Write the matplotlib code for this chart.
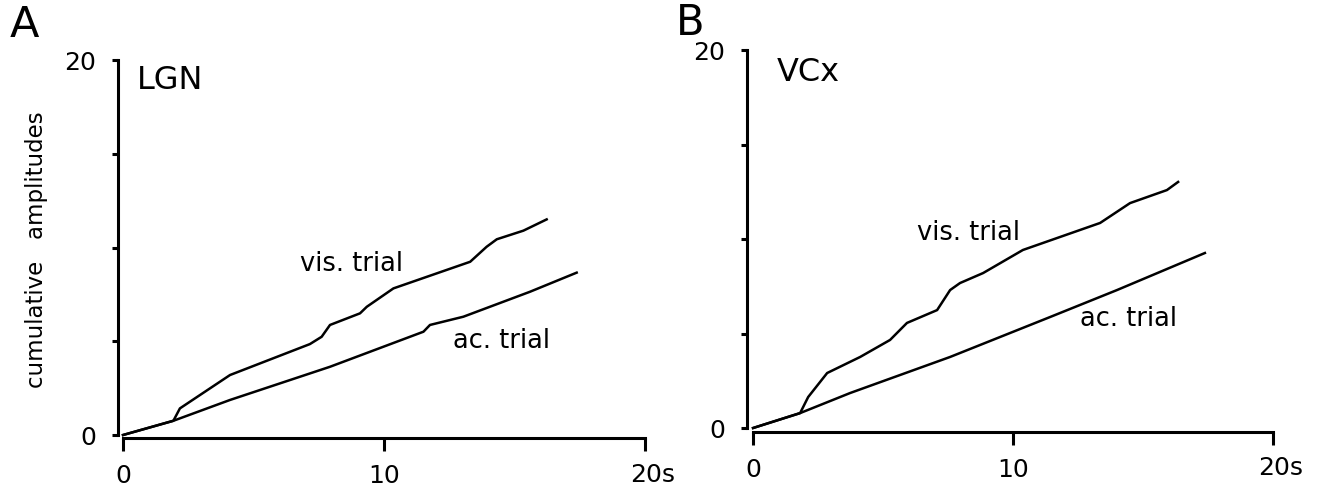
import matplotlib
matplotlib.use("Agg")
import matplotlib.pyplot as plt

plt.rcParams['font.family'] = ['DejaVu Sans']

# panel A (LGN)
lgn_vis_t = [0, 1.93, 2.18, 4.10, 7.16, 7.61, 7.93, 9.08, 9.34, 10.36, 13.30, 13.93, 14.32, 15.34, 16.23]
lgn_vis_amp = [0, 0.76, 1.42, 3.20, 4.85, 5.24, 5.87, 6.49, 6.84, 7.82, 9.24, 10.04, 10.44, 10.90, 11.50]
lgn_ac_t = [0, 1.93, 4.10, 7.93, 11.51, 11.76, 13.04, 15.59, 17.38]
lgn_ac_amp = [0, 0.76, 1.87, 3.64, 5.51, 5.87, 6.31, 7.64, 8.66]

# panel B (VCx)
vcx_vis_t = [0, 1.81, 2.12, 2.85, 4.12, 5.27, 5.92, 7.08, 7.58, 7.96, 8.85, 10.38, 13.35, 14.5, 15.92, 16.35]
vcx_vis_amp = [0, 0.79, 1.64, 2.91, 3.76, 4.66, 5.56, 6.24, 7.30, 7.67, 8.20, 9.42, 10.85, 11.9, 12.59, 13.02]
vcx_ac_t = [0, 1.81, 3.73, 7.58, 11.42, 14.0, 17.38]
vcx_ac_amp = [0, 0.79, 1.85, 3.76, 5.87, 7.30, 9.26]

y_ticks = [0, 5, 10, 15, 20]
y_labels = ['0', '', '', '', '20']
x_ticks = [0, 10, 20]
x_labels = ['0', '10', '']


def style_axes(ax, left_out, bottom_out):
    ax.set_xlim(0, 20)
    ax.set_ylim(0, 20)
    for s in ['top', 'right']:
        ax.spines[s].set_visible(False)
    ax.spines['left'].set_position(('outward', left_out))
    ax.spines['bottom'].set_position(('outward', bottom_out))
    ax.spines['left'].set_linewidth(2.2)
    ax.spines['bottom'].set_linewidth(2.2)
    ax.set_yticks(y_ticks, labels=y_labels)
    ax.set_xticks(x_ticks, labels=x_labels)
    ax.tick_params(axis='y', direction='out', length=4, width=2.2, pad=12, labelsize=18)
    ax.tick_params(axis='x', direction='out', length=9, width=2.2, pad=10, labelsize=18)
    ax.annotate('20s', xy=(20, 0), xycoords=ax.get_xaxis_transform(),
                xytext=(-11, -20), textcoords='offset points',
                ha='left', va='top', fontsize=18)


fig = plt.figure(figsize=(13.17, 4.86), dpi=100)

axA = fig.add_axes([0.0934, 0.1049, 0.3964, 0.7716])
axA.plot(lgn_vis_t, lgn_vis_amp, color='black', lw=1.8, clip_on=False)
axA.plot(lgn_ac_t, lgn_ac_amp, color='black', lw=1.8, clip_on=False)
style_axes(axA, 3.6, 2.2)
axA.text(0.54, 19.73, 'LGN', fontsize=23, va='top', ha='left')
axA.text(6.78, 9.12, 'vis. trial', fontsize=18.5, va='center', ha='left')
axA.text(12.64, 5.01, 'ac. trial', fontsize=18.5, va='center', ha='left')

axB = fig.add_axes([0.5718, 0.1193, 0.3948, 0.7778])
axB.plot(vcx_vis_t, vcx_vis_amp, color='black', lw=1.8, clip_on=False)
axB.plot(vcx_ac_t, vcx_ac_amp, color='black', lw=1.8, clip_on=False)
style_axes(axB, 4.3, 2.9)
axB.text(0.92, 19.63, 'VCx', fontsize=23, va='top', ha='left')
axB.text(6.31, 10.34, 'vis. trial', fontsize=18.5, va='center', ha='left')
axB.text(12.58, 5.77, 'ac. trial', fontsize=18.5, va='center', ha='left')

fig.text(37 / 1317, 1 - 250 / 486, 'cumulative   amplitudes', rotation=90,
         fontsize=16.5, ha='center', va='center')
fig.text(10 / 1317, 1 - 4 / 486, 'A', fontsize=31, ha='left', va='top')
fig.text(676 / 1317, 1 - 2 / 486, 'B', fontsize=30, ha='left', va='top')

fig.savefig('out.png', dpi=100)
